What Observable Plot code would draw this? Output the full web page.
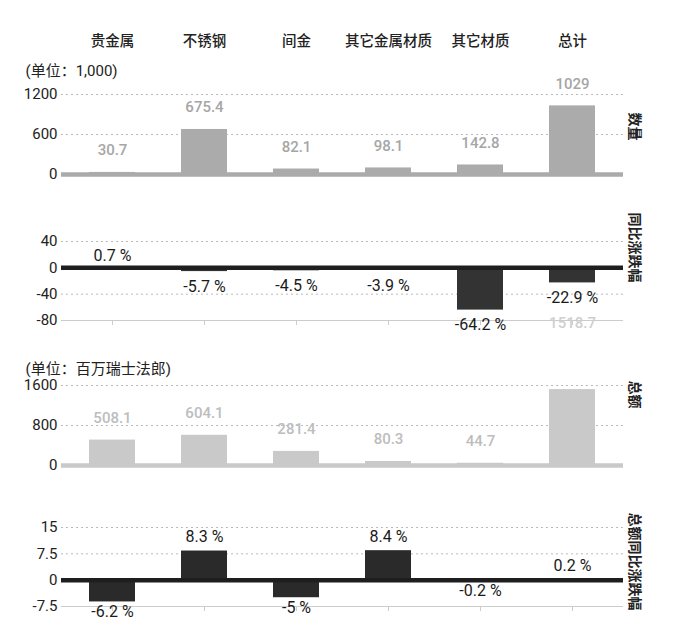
<!DOCTYPE html>
<html><head><meta charset="utf-8">
<script src="https://cdn.jsdelivr.net/npm/d3@7"></script>
<script src="https://cdn.jsdelivr.net/npm/@observablehq/plot@0.6"></script>
<style>
body{margin:0;background:#fff;}
#chart{width:680px;height:643px;position:relative;}
#chart svg{display:block;overflow:visible;}
</style></head><body><div id="chart"></div>
<script>
const categories = ["贵金属","不锈钢","间金","其它金属材质","其它材质","总计"];
const quantity = [30.7, 675.4, 82.1, 98.1, 142.8, 1029];
const quantityChange = [0.7, -5.7, -4.5, -3.9, -64.2, -22.9];
const amount = [508.1, 604.1, 281.4, 80.3, 44.7, 1518.7];
const amountChange = [-6.2, 8.3, -5, 8.4, -0.2, 0.2];
const ticks1 = [0, 600, 1200];
const ticks2 = [40, 0, -40, -80];
const ticks3 = [0, 800, 1600];
const ticks4 = [15, 7.5, 0, -7.5];
const unit1 = "(单位：1,000)";
const unit3 = "(单位：百万瑞士法郎)";
const title1 = "数量", title2 = "同比涨跌幅", title3 = "总额", title4 = "总额同比涨跌幅";
const totalLabel = "总计";

const FONT = "Roboto, 'Noto Sans CJK SC', sans-serif";
const rows = arr => categories.map((c, i) => ({cat: c, v: arr[i]}));
const xScale = () => ({domain: categories, paddingInner: 0.504, paddingOuter: 0.28, axis: null});
const base = (height, marginTop, marginBottom) => ({
  width: 680, height, marginTop, marginBottom, marginLeft: 61, marginRight: 57,
  style: {fontFamily: FONT, fontSize: "15px", overflow: "visible", background: "transparent", color: "#222"},
  x: xScale()
});
const fmt = d => String(d);
const pct = d => `${d.v} %`;
const chart = document.getElementById("chart");
const axisOpts = {tickSize: 0, tickPadding: 4, tickFormat: fmt, label: null, fontSize: 15};
const titleOpts = {frameAnchor: "top-right", rotate: 90, textAnchor: "start", dx: 16, fontWeight: "bold", fill: "#222", fontSize: 14};

// Panel 1: quantity
const r1 = rows(quantity);
chart.append(Plot.plot({
  ...base(195, 94, 21),
  y: {domain: [0, 1200], axis: null},
  marks: [
    Plot.gridY(ticks1.filter(d => d !== 0), {stroke: "#bbb", strokeOpacity: 1, strokeDasharray: "2,3"}),
    Plot.axisY(ticks1, axisOpts),
    Plot.barY(r1, {x: "cat", y: "v", fill: "#ababab"}),
    Plot.ruleY([0], {stroke: "#ababab", strokeWidth: 4.5}),
    Plot.text(r1, {x: "cat", y: "v", text: d => fmt(d.v), dy: -22, fill: "#a6a6a6", fontWeight: 500, fontSize: 15}),
    Plot.text(categories, {x: d => d, text: d => d, frameAnchor: "top", dy: -59, fill: "#222", fontWeight: 500, fontSize: 14.5}),
    Plot.text([unit1], {text: d => d, frameAnchor: "top-left", textAnchor: "start", dx: -36, dy: -29, fill: "#222", fontSize: 15}),
    Plot.text([title1], {...titleOpts, text: d => d, dy: 18})
  ]
}));

// Panel 2: quantity change
const r2 = rows(quantityChange);
chart.append(Plot.plot({
  ...base(145, 46, 20),
  y: {domain: [-80, 40], axis: null},
  marks: [
    Plot.gridY(ticks2.filter(d => d === 40 || d === -40), {stroke: "#bbb", strokeOpacity: 1, strokeDasharray: "2,3"}),
    Plot.ruleY([-80], {stroke: "#ccc", strokeWidth: 1.2}),
    Plot.axisX({anchor: "bottom", tickSize: 5, tickFormat: () => "", stroke: "#ccc", label: null}),
    Plot.axisY(ticks2, axisOpts),
    Plot.barY(r2, {x: "cat", y: "v", fill: "#333"}),
    Plot.ruleY([0], {stroke: "#1e1e1e", strokeWidth: 4.5}),
    Plot.text(r2.filter(d => d.v >= 0), {x: "cat", y: "v", text: pct, dy: -11, fill: "#1a1a1a", fontSize: 16}),
    Plot.text(r2.filter(d => d.v < 0), {x: "cat", y: "v", text: pct, dy: 15, fill: "#1a1a1a", fontSize: 16}),
    Plot.text([title2], {...titleOpts, text: d => d, dy: -29})
  ]
}));

// Panel 3: amount
const r3 = rows(amount);
chart.append(Plot.plot({
  ...base(150, 45, 25),
  y: {domain: [0, 1600], axis: null},
  marks: [
    Plot.gridY(ticks3.filter(d => d !== 0), {stroke: "#bbb", strokeOpacity: 1, strokeDasharray: "2,3"}),
    Plot.axisY(ticks3, axisOpts),
    Plot.barY(r3, {x: "cat", y: "v", fill: "#c9c9c9"}),
    Plot.ruleY([0], {stroke: "#c9c9c9", strokeWidth: 4.5}),
    Plot.text(r3.filter(d => d.cat !== totalLabel), {x: "cat", y: "v", text: d => fmt(d.v), dy: -22, fill: "#bdbdbd", fontWeight: 500, fontSize: 15}),
    Plot.text(r3.filter(d => d.cat === totalLabel), {x: "cat", y: "v", text: d => fmt(d.v), dy: -66, fill: "#cfcfcf", fontWeight: 500, fontSize: 15}),
    Plot.text([unit3], {text: d => d, frameAnchor: "top-left", textAnchor: "start", dx: -36, dy: -22, fill: "#222", fontSize: 15}),
    Plot.text([title3], {...titleOpts, text: d => d, dy: -5})
  ]
}));

// Panel 4: amount change
const r4 = rows(amountChange);
chart.append(Plot.plot({
  ...base(153, 37, 37),
  y: {domain: [-7.5, 15], axis: null},
  marks: [
    Plot.gridY(ticks4.filter(d => d > 0), {stroke: "#bbb", strokeOpacity: 1, strokeDasharray: "2,3"}),
    Plot.ruleY([-7.5], {stroke: "#ccc", strokeWidth: 1.2}),
    Plot.axisX({anchor: "bottom", tickSize: 5, tickFormat: () => "", stroke: "#ccc", label: null}),
    Plot.axisY(ticks4, axisOpts),
    Plot.barY(r4, {x: "cat", y: "v", fill: "#2a2a2a"}),
    Plot.ruleY([0], {stroke: "#1e1e1e", strokeWidth: 4.5}),
    Plot.text(r4.filter(d => d.v >= 0), {x: "cat", y: "v", text: pct, dy: -14, fill: "#1a1a1a", fontSize: 16}),
    Plot.text(r4.filter(d => d.v < 0), {x: "cat", y: "v", text: pct, dy: 10, fill: "#1a1a1a", fontSize: 16}),
    Plot.text([title4], {...titleOpts, text: d => d, dy: -15})
  ]
}));
</script></body></html>
